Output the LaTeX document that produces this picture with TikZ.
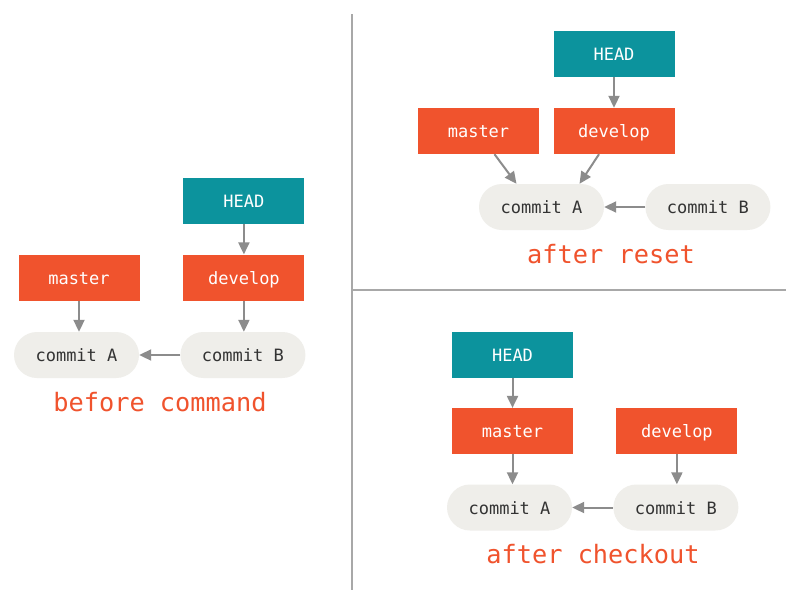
\documentclass[tikz,border=0pt]{standalone}
\usepackage{fontspec}
\setmonofont{DejaVu Sans Mono}
\usepackage{tikz}
\usetikzlibrary{arrows.meta, positioning}
\definecolor{gitred}{HTML}{F0532D}
\definecolor{gitteal}{HTML}{0C939D}
\definecolor{commitgray}{HTML}{EFEEEA}
\definecolor{arrowgray}{HTML}{8C8C8C}
\definecolor{linegray}{HTML}{A8A8A8}
\definecolor{textgray}{HTML}{333333}
\tikzset{
  branch/.style={
      rectangle,
      fill=gitred, text=white,
      minimum width=121pt,
      minimum height=46pt,
      inner sep=0pt,
      text height=13pt, text depth=0pt,
      font=\ttfamily\fontsize{17}{20}\selectfont,
    },
  head_ref/.style={
      branch,
      fill=gitteal,
    },
  commit/.style={
      rectangle,
      rounded corners=23pt,
      fill=commitgray, text=textgray,
      minimum width=125pt,
      minimum height=46pt,
      inner sep=0pt,
      text height=13pt, text depth=0pt,
      font=\ttfamily\fontsize{17}{20}\selectfont,
    },
  caption/.style={
      anchor=base,
      text=gitred,
      font=\ttfamily\fontsize{25.3}{30}\selectfont,
    },
  ref_arrow/.style={
      draw=arrowgray, line width=2pt,
      -{Triangle[length=12pt, width=11pt]},
    },
  divider/.style={
      draw=linegray, line width=2pt,
    },
}

\begin{document}
\begin{tikzpicture}[x=1pt, y=-1pt]
      \useasboundingbox[fill=white] (0,0) rectangle (800,605);
      % dividers
      \coordinate (div_top) at (351.5,14);
      \coordinate (div_bottom) at (351.5,590);
      \coordinate (div_mid) at (351.5,289.5);
      \coordinate (div_right) at (786,289.5);
      \draw[divider] (div_top) -- (div_bottom);
      \draw[divider] (div_mid) -- (div_right);

      % before command
      \node[commit] (before_a) at (76.5,355) {commit A};
      \node[commit, right=41pt of before_a] (before_b) {commit B};
      \node[branch, above=31pt of before_a, xshift=2.5pt] (before_master) {master};
      \node[branch, above=31pt of before_b, xshift=1pt] (before_develop) {develop};
      \node[head_ref, above=30pt of before_develop] (before_head) {HEAD};
      \node[caption] (before_caption) at (160,411) {before command};
      \draw[ref_arrow] (before_head.south) -- (before_develop.north);
      \draw[ref_arrow] (before_master.south) -- (before_master.south |- before_a.north);
      \draw[ref_arrow] (before_develop.south) -- (before_develop.south |- before_b.north);
      \draw[ref_arrow] (before_b.west) -- (before_a.east);

      % after reset
      \node[commit] (reset_a) at (541.5,207) {commit A};
      \node[commit, right=41pt of reset_a] (reset_b) {commit B};
      \node[branch] (reset_master) at (478.5,131) {master};
      \node[branch] (reset_develop) at (614,131) {develop};
      \node[head_ref, above=31pt of reset_develop] (reset_head) {HEAD};
      \node[caption] (reset_caption) at (611,263) {after reset};
      \draw[ref_arrow] (reset_head.south) -- (reset_develop.north);
      \draw[ref_arrow] ([xshift=16pt]reset_master.south) -- ([xshift=-25pt]reset_a.north);
      \draw[ref_arrow] ([xshift=-15pt]reset_develop.south) -- ([xshift=38pt]reset_a.north);
      \draw[ref_arrow] (reset_b.west) -- (reset_a.east);

      % after checkout
      \node[commit] (checkout_a) at (509.5,507.5) {commit A};
      \node[commit, right=41pt of checkout_a] (checkout_b) {commit B};
      \node[branch, above=30pt of checkout_a, xshift=3pt] (checkout_master) {master};
      \node[branch, above=30pt of checkout_b, xshift=1pt] (checkout_develop) {develop};
      \node[head_ref, above=30pt of checkout_master] (checkout_head) {HEAD};
      \node[caption] (checkout_caption) at (593,563) {after checkout};
      \draw[ref_arrow] (checkout_head.south) -- (checkout_master.north);
      \draw[ref_arrow] (checkout_master.south) -- (checkout_master.south |- checkout_a.north);
      \draw[ref_arrow] (checkout_develop.south) -- (checkout_develop.south |- checkout_b.north);
      \draw[ref_arrow] (checkout_b.west) -- (checkout_a.east);
\end{tikzpicture}
\end{document}
